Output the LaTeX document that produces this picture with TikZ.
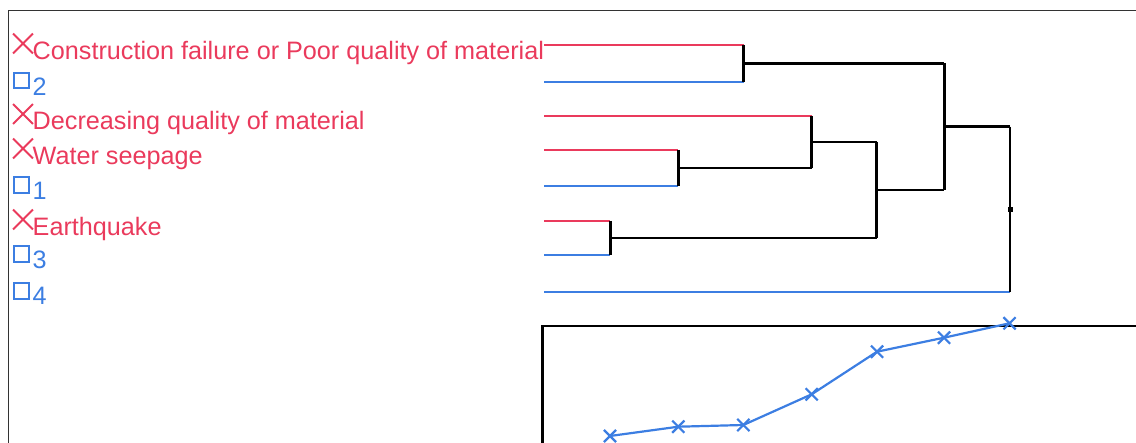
\documentclass[tikz,border=0pt]{standalone}
\usepackage{fontspec}
\setmainfont{Liberation Sans}
\definecolor{causeRGB}{RGB}{234,58,92}
\definecolor{groupRGB}{RGB}{60,126,226}
\colorlet{colorCause}{causeRGB}
\colorlet{colorGroup}{groupRGB}
\usetikzlibrary{calc}
\usetikzlibrary{shapes.misc}
\tikzset{
   lbl/.style={anchor=base west,inner sep=0pt,font=\fontsize{25.2}{30}\selectfont},
   causelbl/.style={lbl,text=colorCause},
   grouplbl/.style={lbl,text=colorGroup},
   xmk/.style={cross out,draw=colorCause,line width=1.8pt,minimum size=18pt,inner sep=0pt},
   sqmk/.style={rectangle,draw=colorGroup,line width=2pt,minimum size=15.5pt,inner sep=0pt},
   causeleaf/.style={color=colorCause,line width=2.2pt},
   groupleaf/.style={color=colorGroup,line width=2.2pt},
   link/.style={color=black,line width=2.5pt,line cap=square},
   frame/.style={draw=black!80,line width=1pt},
   plotbox/.style={draw=black,line width=2.2pt},
   curve/.style={color=colorGroup,line width=2.2pt,line join=round},
   ptmk/.style={cross out,draw=colorGroup,line width=2.2pt,minimum size=10pt,inner sep=0pt},
}

\begin{document}
\begin{tikzpicture}[x=1pt,y=-1pt]
        \useasboundingbox (0,0) rectangle (1136,443);

        \draw[frame] (8.5,443) -- (8.5,10.5) -- (1136,10.5);

        % legend
        \node[xmk]  (k1) at (23,43.5)   {};
        \node[sqmk] (k2) at (21.7,80.5) {};
        \node[xmk]  (k3) at (23,114)    {};
        \node[xmk]  (k4) at (23,148.5)  {};
        \node[sqmk] (k5) at (21.7,185)  {};
        \node[xmk]  (k6) at (23,219.5)  {};
        \node[sqmk] (k7) at (21.7,254)  {};
        \node[sqmk] (k8) at (21.7,291)  {};

        \node[causelbl] (t1) at (32.5,59.3)  {Construction failure or Poor quality of material};
        \node[grouplbl] (t2) at (32.5,95.7)  {2};
        \node[causelbl] (t3) at (32.5,130)   {Decreasing quality of material};
        \node[causelbl] (t4) at (32.5,164.3) {Water seepage};
        \node[grouplbl] (t5) at (32.5,200)   {1};
        \node[causelbl] (t6) at (32.5,235.7) {Earthquake};
        \node[grouplbl] (t7) at (32.5,268.3) {3};
        \node[grouplbl] (t8) at (32.5,305)   {4};

        % dendrogram
        \coordinate (l1) at (544,45);
        \coordinate (l2) at (544,81.7);
        \coordinate (l3) at (544,116);
        \coordinate (l4) at (544,150);
        \coordinate (l5) at (544,186);
        \coordinate (l6) at (544,221);
        \coordinate (l7) at (544,255);
        \coordinate (l8) at (544,292);

        \coordinate (ma) at (743.7,63.3);
        \coordinate (mb) at (678.3,168);
        \coordinate (mc) at (811.7,142);
        \coordinate (md) at (610.3,238);
        \coordinate (me) at (876.7,190);
        \coordinate (mf) at (944.3,126.7);
        \coordinate (mg) at (1010,209.3);

        \draw[causeleaf] (l1) -- (l1 -| ma);
        \draw[groupleaf] (l2) -- (l2 -| ma);
        \draw[causeleaf] (l3) -- (l3 -| mc);
        \draw[causeleaf] (l4) -- (l4 -| mb);
        \draw[groupleaf] (l5) -- (l5 -| mb);
        \draw[causeleaf] (l6) -- (l6 -| md);
        \draw[groupleaf] (l7) -- (l7 -| md);
        \draw[groupleaf] (l8) -- (l8 -| mg);

        \draw[link] (l1 -| ma) -- (l2 -| ma);
        \draw[link] (l4 -| mb) -- (l5 -| mb);
        \draw[link] (l3 -| mc) -- (mb -| mc);
        \draw[link] (l6 -| md) -- (l7 -| md);
        \draw[link] (mc -| me) -- (md -| me);
        \draw[link] (ma -| mf) -- (me -| mf);
        \draw[link] (mf -| mg) -- (l8 -| mg);

        \draw[link] (mb) -- (mb -| mc);
        \draw[link] (mc) -- (mc -| me);
        \draw[link] (md) -- (md -| me);
        \draw[link] (ma) -- (ma -| mf);
        \draw[link] (me) -- (me -| mf);
        \draw[link] (mf) -- (mf -| mg);

        \node[fill=black,minimum size=5pt,inner sep=0pt] (root) at (mg) {};

        % distance plot
        \draw[plotbox] (542.5,443) -- (542.5,326) -- (1136,326);

        \coordinate (p1) at (610,436);
        \coordinate (p2) at (678.3,426.7);
        \coordinate (p3) at (743.3,425);
        \coordinate (p4) at (811.7,394.3);
        \coordinate (p5) at (877,351.7);
        \coordinate (p6) at (944,337.7);
        \coordinate (p7) at (1009.5,323.3);

        \draw[curve] (p1) -- (p2) -- (p3) -- (p4) -- (p5) -- (p6) -- (p7);
        \node[ptmk] (q1) at (p1) {};
        \node[ptmk] (q2) at (p2) {};
        \node[ptmk] (q3) at (p3) {};
        \node[ptmk] (q4) at (p4) {};
        \node[ptmk] (q5) at (p5) {};
        \node[ptmk] (q6) at (p6) {};
        \node[ptmk] (q7) at (p7) {};

      \end{tikzpicture}
\end{document}
